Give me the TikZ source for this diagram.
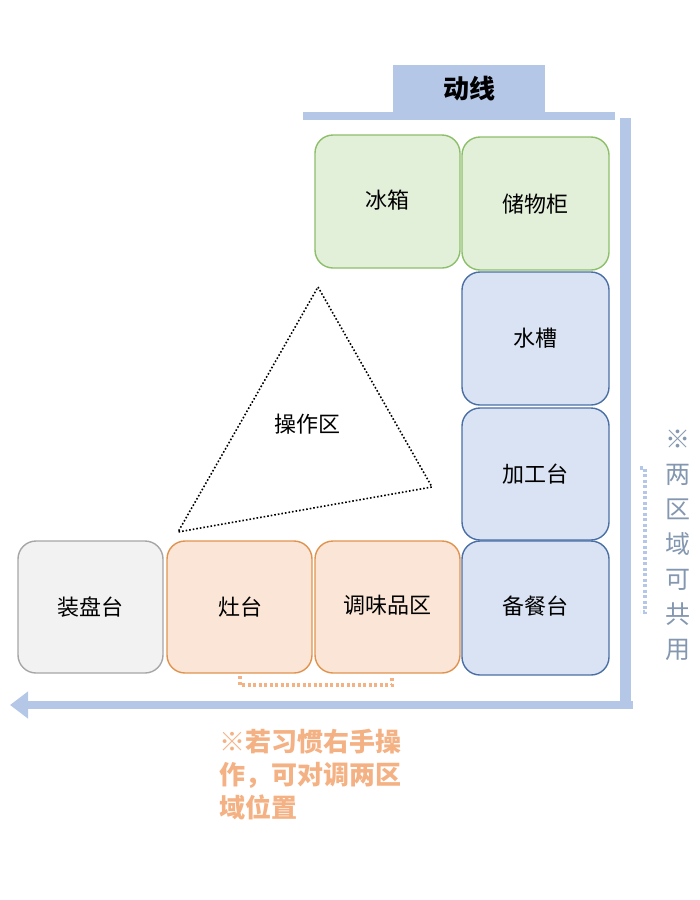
\documentclass[tikz,border=0pt]{standalone}
\usepackage{fontspec}
\setmainfont{Noto Sans CJK SC}
\usetikzlibrary{arrows.meta}
\definecolor{gfill}{HTML}{E2EFD9}\definecolor{gdraw}{HTML}{8DBF6A}
\definecolor{bfill}{HTML}{DAE3F3}\definecolor{bdraw}{HTML}{4A6FA5}
\definecolor{ofill}{HTML}{FBE5D6}\definecolor{odraw}{HTML}{E0934E}
\definecolor{kfill}{HTML}{F2F2F2}\definecolor{kdraw}{HTML}{A6A6A6}
\definecolor{lane}{HTML}{B4C7E7}\definecolor{otxt}{HTML}{F4B183}
\definecolor{vtxt}{HTML}{8497B0}
\tikzset{
 base/.style={rounded corners=18pt,line width=1.4pt},
 gbox/.style={base,fill=gfill,draw=gdraw},
 bbox/.style={base,fill=bfill,draw=bdraw},
 obox/.style={base,fill=ofill,draw=odraw},
 kbox/.style={base,fill=kfill,draw=kdraw},
 lab/.style={font=\fontsize{22}{26}\selectfont},
}
\begin{document}
\begin{tikzpicture}[x=1pt,y=-1pt]
\useasboundingbox (0,0) rectangle (700,900);
% lanes
\fill[lane] (303,112) rectangle (615,120);
\node[fill=lane,minimum width=152pt,minimum height=47pt,inner sep=0,font=\fontsize{26}{30}\selectfont\bfseries] (dx) at (469,88.5) {动线};
\fill[lane] (620,118) rectangle (631,705);
\coordinate (ae) at (633,705);
\coordinate (as) at (10,705);
\draw[lane,line width=8pt,-{Triangle[length=18pt,width=26pt]}] (ae) -- (as);
% boxes
\path[gbox] (315,135) rectangle (460,268); \node[lab] (bx) at (387,200) {冰箱};
\path[gbox] (462,137) rectangle (609,270); \node[lab] (cw) at (535,204) {储物柜};
\path[bbox] (462,272) rectangle (609,405); \node[lab] (sc) at (535,338) {水槽};
\path[bbox] (462,408) rectangle (609,540); \node[lab] (jg) at (535,474) {加工台};
\path[bbox] (462,541) rectangle (609,675); \node[lab] (bc) at (535,606) {备餐台};
\path[kbox] (18,541) rectangle (163,673); \node[lab] (zp) at (90,607) {装盘台};
\path[obox] (167,541) rectangle (312,673); \node[lab] (zt) at (240,607) {灶台};
\path[obox] (315,541) rectangle (460,673); \node[lab] (tw) at (387,605) {调味品区};
% triangle
\coordinate (t1) at (318,287); \coordinate (t2) at (432,487); \coordinate (t3) at (178,532);
\draw[dotted,line width=1.6pt] (t1) -- (t2) -- (t3) -- cycle;
\node[lab] (cz) at (307,424) {操作区};
% brackets
\draw[otxt,dash pattern=on 3pt off 2.5pt,line width=4pt] (240,676) -- (240,685) -- (392,685) -- (392,676);
\draw[lane,dash pattern=on 3pt off 2.5pt,line width=4pt] (640,468) -- (645,468) -- (645,612) -- (640,612);
% notes
\node[otxt,anchor=west,align=left,font=\fontsize{26}{33}\selectfont\bfseries] (note) at (216,775) {※若习惯右手操\\作，可对调两区\\域位置};
\node[vtxt,align=center,font=\fontsize{25}{35}\selectfont] (vn) at (678,545) {※\\两\\区\\域\\可\\共\\用};
\end{tikzpicture}
\end{document}
